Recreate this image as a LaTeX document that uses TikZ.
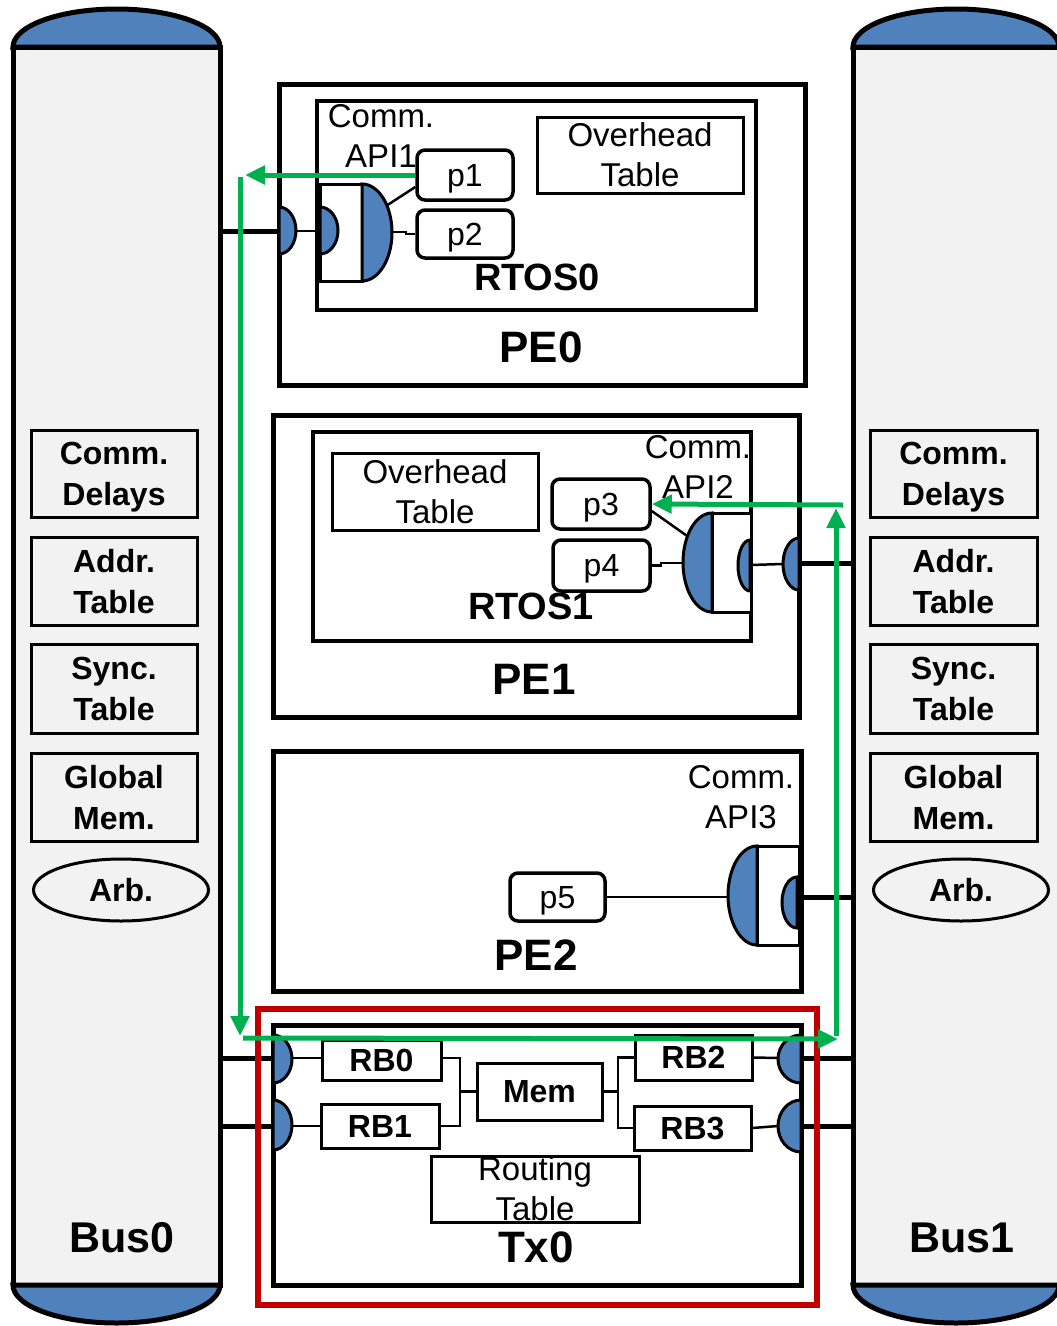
\documentclass[tikz,border=0pt]{standalone}
\usepackage{fontspec}
\setmainfont{Liberation Sans}
\usetikzlibrary{arrows.meta,shapes.geometric}
\definecolor{pblue}{HTML}{4F81BD}
\definecolor{busgray}{HTML}{F2F2F2}
\definecolor{ggreen}{HTML}{00B050}
\definecolor{dred}{HTML}{C00000}
% D-shaped port: flat side at x=#1 from y=#2 to y=#3, bulge of signed width #4
\newcommand\dport[4]{%
  \filldraw[portshape] (#1,#2) .. controls ({#1+0.552*(#4)},#2) and ({#1+(#4)},{#2+0.224*(#3-#2)}) .. ({#1+(#4)},{(#2+#3)/2}) .. controls ({#1+(#4)},{#3-0.224*(#3-#2)}) and ({#1+0.552*(#4)},#3) .. (#1,#3) -- cycle;}
\begin{document}
\begin{tikzpicture}[x=1pt,y=-1pt,
  portshape/.style={fill=pblue,draw=black,line width=3pt},
  thinbox/.style={draw,line width=3pt,fill=white,inner sep=0pt,align=center,font=\fontsize{33pt}{40pt}\selectfont},
  sidebox/.style={draw,line width=3pt,fill=busgray,inner sep=0pt,align=center,text depth=0pt,font=\fontsize{32pt}{41pt}\selectfont\bfseries},
  pbox/.style={draw,line width=3.5pt,fill=white,inner sep=0pt,rounded corners=8pt,text depth=0pt,font=\fontsize{32pt}{40pt}\selectfont},
  rbbox/.style={draw,line width=3pt,fill=white,inner sep=0pt,font=\fontsize{32pt}{40pt}\selectfont\bfseries},
  bigbox/.style={draw,line width=5pt,inner sep=0pt},
  rtosbox/.style={draw,line width=4.5pt,inner sep=0pt},
  apibox/.style={draw,line width=3pt,fill=white,inner sep=0pt},
  wire/.style={line width=2.5pt},
  buswire/.style={line width=5pt},
  cyl/.style={draw,line width=5pt,fill=busgray,inner sep=0pt},
  buscap/.style={fill=pblue,draw=black,line width=5pt},
  apilbl/.style={align=center,font=\fontsize{33pt}{40pt}\selectfont,inner sep=0pt},
  boldlbl/.style={font=\fontsize{38pt}{40pt}\selectfont\bfseries,inner sep=0pt},
  peLbl/.style={font=\fontsize{44pt}{48pt}\selectfont\bfseries,inner sep=0pt},
  garrow/.style={draw=ggreen,line width=5pt,-{Triangle[length=20pt,width=18pt]}}
]
\useasboundingbox (0,0) rectangle (1057,1326);

% ---------- buses ----------
\node[cyl,minimum width=207pt,minimum height=1238pt] (bus0) at (116.5,666) {};
\node[cyl,minimum width=206pt,minimum height=1238pt] (bus1) at (956,666) {};
\filldraw[buscap] (13,47) .. controls (13,26) and (59.4,9) .. (116.5,9) .. controls (173.6,9) and (220,26) .. (220,47) -- cycle;
\filldraw[buscap] (13,1285) .. controls (13,1306) and (59.4,1323) .. (116.5,1323) .. controls (173.6,1323) and (220,1306) .. (220,1285) -- cycle;
\filldraw[buscap] (853,47) .. controls (853,26) and (899.1,9) .. (956,9) .. controls (1012.9,9) and (1059,26) .. (1059,47) -- cycle;
\filldraw[buscap] (853,1285) .. controls (853,1306) and (899.1,1323) .. (956,1323) .. controls (1012.9,1323) and (1059,1306) .. (1059,1285) -- cycle;
\node[font=\fontsize{43pt}{48pt}\selectfont\bfseries,inner sep=0pt] (bus0l) at (122,1238) {Bus0};
\node[font=\fontsize{43pt}{48pt}\selectfont\bfseries,inner sep=0pt] (bus1l) at (962,1238) {Bus1};

% side boxes
\node[sidebox,minimum width=166pt,minimum height=87pt] (cdL) at (114,473.5) {Comm.\\Delays};
\node[sidebox,minimum width=166pt,minimum height=88pt] (atL) at (114,581) {Addr.\\Table};
\node[sidebox,minimum width=166pt,minimum height=89pt] (stL) at (114,688.5) {Sync.\\Table};
\node[sidebox,minimum width=166pt,minimum height=88pt] (gmL) at (114,797) {Global\\Mem.};
\node[sidebox,ellipse,minimum width=175pt,minimum height=62pt] (arbL) at (121,890) {Arb.};
\node[sidebox,minimum width=167pt,minimum height=87pt] (cdR) at (953.5,473.5) {Comm.\\Delays};
\node[sidebox,minimum width=167pt,minimum height=88pt] (atR) at (953.5,581) {Addr.\\Table};
\node[sidebox,minimum width=167pt,minimum height=89pt] (stR) at (953.5,688.5) {Sync.\\Table};
\node[sidebox,minimum width=167pt,minimum height=88pt] (gmR) at (953.5,797) {Global\\Mem.};
\node[sidebox,ellipse,minimum width=175pt,minimum height=62pt] (arbR) at (961,890) {Arb.};

% ---------- PE0 ----------
\node[bigbox,minimum width=526pt,minimum height=301pt] (pe0) at (542,234.5) {};
\node[rtosbox,minimum width=439pt,minimum height=209pt] (rtos0) at (536.5,205.5) {};
\node[thinbox,minimum width=206pt,minimum height=76pt] (ot0) at (640,155) {Overhead\\Table};
\node[pbox,minimum width=96pt,minimum height=50pt] (p1) at (465,175) {p1};
\node[pbox,minimum width=96pt,minimum height=48pt] (p2) at (465,234) {p2};
\node[apibox,minimum width=42pt,minimum height=97pt] (api0) at (341,232.5) {};
\coordinate (pe0p) at (296,231);
\coordinate (api0in) at (320,231);
\draw[buswire] (bus0.east |- pe0p) -- (pe0.west |- pe0p);
\draw[wire] (pe0p) -- (api0in);
\draw[wire] (386,206) -- ([yshift=-12pt]p1.west);
\draw[wire] (392,232) -- (406,232) -- (406,234) -- (p2.west);
\dport{362}{184}{281}{30}
\dport{320}{207}{254}{18}
\dport{279}{207}{254}{17}
\node[apilbl] (capi1) at (381,136) {Comm.\\API1};
\node[boldlbl] (rtos0l) at (537,277) {RTOS0};
\node[peLbl] (pe0l) at (541,347) {PE0};

% ---------- PE1 ----------
\node[bigbox,minimum width=526pt,minimum height=302pt] (pe1) at (536,566) {};
\node[rtosbox,minimum width=438pt,minimum height=209pt] (rtos1) at (532,536.5) {};
\node[thinbox,minimum width=206pt,minimum height=77pt] (ot1) at (435,491.5) {Overhead\\Table};
\node[pbox,minimum width=98pt,minimum height=50pt] (p3) at (601,504) {p3};
\node[pbox,minimum width=97pt,minimum height=51pt] (p4) at (601.5,565.5) {p4};
\node[apibox,minimum width=39pt,minimum height=99pt] (api1) at (731.5,562.5) {};
\coordinate (pe1p) at (783,564);
\coordinate (api1in) at (750,565);
\draw[buswire] (799,563) -- (bus1.west |- 0,563);
\draw[wire] (api1in) -- (pe1p);
\draw[wire] ([yshift=-7pt]p3.east) -- (690,538);
\draw[wire] (p4.east) -- (661,565.5) -- (661,563) -- (684,563);
\dport{712}{513}{612}{-29}
\dport{750}{540}{591}{-12}
\dport{799}{538}{590}{-16}
\node[apilbl] (capi2) at (698,467) {Comm.\\API2};
\node[boldlbl] (rtos1l) at (531,606) {RTOS1};
\node[peLbl] (pe1l) at (534,679) {PE1};

% ---------- PE2 ----------
\node[bigbox,minimum width=528pt,minimum height=240pt] (pe2) at (537,871) {};
\node[pbox,minimum width=95pt,minimum height=48pt] (p5) at (557.5,897) {p5};
\node[apibox,minimum width=42pt,minimum height=99pt] (api2) at (778,895.5) {};
\draw[buswire] (801,897) -- (bus1.west |- 0,897);
\draw[wire] (p5.east) -- (728,897);
\dport{757}{846}{945}{-29}
\dport{797}{877}{928}{-15}
\node[apilbl] (capi3) at (741,797) {Comm.\\API3};
\node[peLbl] (pe2l) at (536,955) {PE2};

% ---------- Tx0 ----------
\node[bigbox,minimum width=528pt,minimum height=260pt] (tx0) at (537,1155) {};
\node[rbbox,minimum width=119pt,minimum height=40pt] (rb0) at (381.5,1060) {RB0};
\node[rbbox,minimum width=118pt,minimum height=44pt] (rb1) at (380,1126) {RB1};
\node[rbbox,minimum width=117pt,minimum height=45pt] (rb2) at (693.5,1057.5) {RB2};
\node[rbbox,minimum width=117pt,minimum height=44pt] (rb3) at (692.5,1128) {RB3};
\node[rbbox,minimum width=125pt,minimum height=57pt] (mem) at (539.5,1091.5) {Mem};
\node[thinbox,fill=none,minimum width=208pt,minimum height=66pt] (rt) at (535,1189) {Routing\\Table};
\coordinate (txl0) at (292,1058);
\coordinate (txl1) at (292,1126);
\coordinate (txr0) at (778,1058);
\coordinate (txr1) at (778,1126);
\draw[buswire] (bus0.east |- txl0) -- (tx0.west |- txl0);
\draw[buswire] (bus0.east |- txl1) -- (tx0.west |- txl1);
\draw[buswire] (tx0.east |- txr0) -- (bus1.west |- txr0);
\draw[buswire] (tx0.east |- txr1) -- (bus1.west |- txr1);
\draw[wire] (txl0) -- (rb0.west |- txl0);
\draw[wire] (txl1) -- (rb1.west);
\draw[wire] (rb2.east) -- (txr0);
\draw[wire] (rb3.east) -- (txr1);
\draw[wire] (rb0.east |- txl0) -- (460,1058) |- (mem.west);
\draw[wire] (rb1.east) -- (460,1126) |- (mem.west);
\draw[wire] (mem.east) -- (618,1091.5) |- (rb2.west);
\draw[wire] (618,1091.5) |- (rb3.west);
\dport{273}{1035}{1083}{19}
\dport{273}{1100}{1150}{19}
\dport{801}{1035}{1083}{-23}
\dport{801}{1100}{1152}{-23}
\node[peLbl] (tx0l) at (536,1247) {Tx0};

% highlight
\node[draw=dred,line width=6pt,inner sep=0pt,minimum width=559pt,minimum height=296pt] (hl) at (537.5,1157) {};

% ---------- green path ----------
\coordinate (gA) at (245,175);
\coordinate (gB) at (240,177);
\coordinate (gC) at (240,1036);
\coordinate (gD) at (243,1038);
\coordinate (gE) at (838,1039);
\coordinate (gF) at (836,1036);
\coordinate (gG) at (836,508);
\coordinate (gH) at (843,505);
\draw[garrow] (p1.west) -- (gA);
\draw[garrow] (gB) -- (gC);
\draw[garrow] (gD) -- (gE);
\draw[garrow] (gF) -- (gG);
\draw[garrow] (gH) -- (p3.east);
\end{tikzpicture}
\end{document}
